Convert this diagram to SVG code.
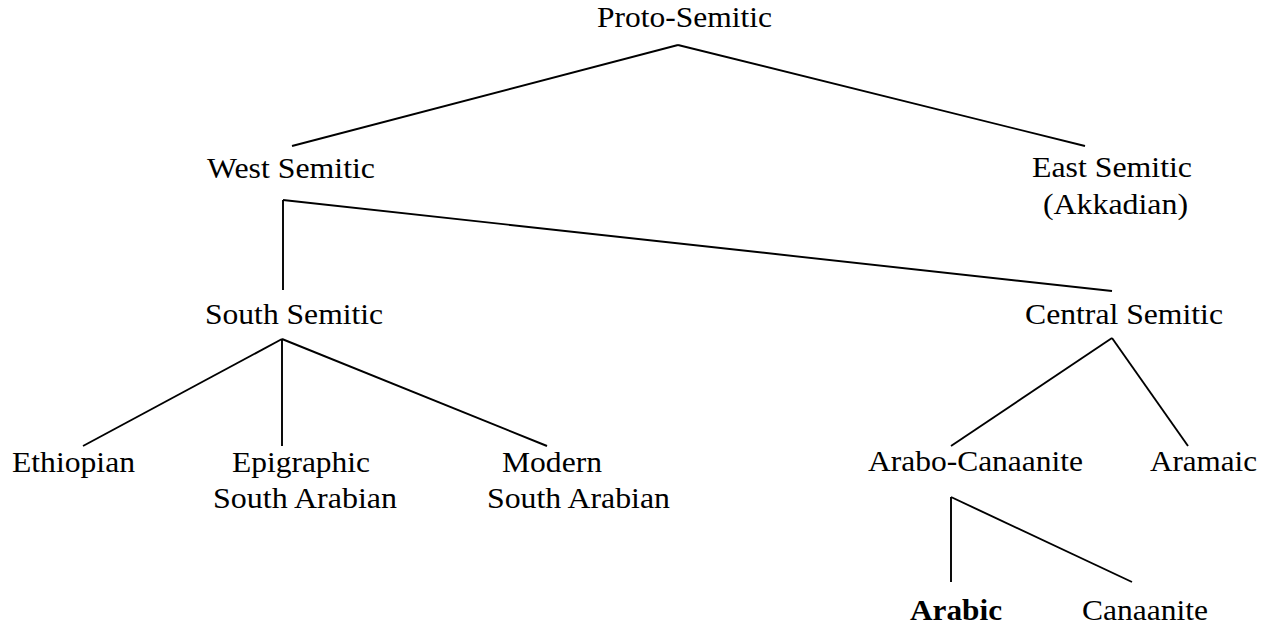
<svg xmlns="http://www.w3.org/2000/svg" width="1270" height="625" viewBox="0 0 1270 625">
<style>
text{font-family:"Liberation Serif","Times New Roman",serif;font-size:29.5px;fill:#000}
.b{font-weight:bold}
.c line{stroke:#000;stroke-width:1.9;stroke-linecap:butt}
</style>
<rect width="1270" height="625" fill="#fff"/>
<g class="c" id="connectors">
<line x1="678" y1="45" x2="292" y2="146"/>
<line x1="678" y1="45" x2="1085" y2="146"/>
<line x1="283" y1="200" x2="283" y2="290"/>
<line x1="283" y1="200" x2="1112" y2="291"/>
<line x1="282" y1="339" x2="83" y2="446"/>
<line x1="282" y1="339" x2="282" y2="446"/>
<line x1="282" y1="339" x2="547" y2="446"/>
<line x1="1112" y1="338" x2="951" y2="446"/>
<line x1="1112" y1="338" x2="1188" y2="446"/>
<line x1="951" y1="497" x2="951" y2="582"/>
<line x1="951" y1="497" x2="1132" y2="582"/>
</g>
<g id="proto-semitic"><text x="597" y="27" textLength="175" lengthAdjust="spacingAndGlyphs">Proto-Semitic</text></g>
<g id="west-semitic"><text x="207" y="178" textLength="168" lengthAdjust="spacingAndGlyphs">West Semitic</text></g>
<g id="east-semitic"><text x="1032" y="177" textLength="160" lengthAdjust="spacingAndGlyphs">East Semitic</text><text x="1043" y="214" textLength="145" lengthAdjust="spacingAndGlyphs">(Akkadian)</text></g>
<g id="south-semitic"><text x="205" y="324" textLength="178" lengthAdjust="spacingAndGlyphs">South Semitic</text></g>
<g id="central-semitic"><text x="1025" y="324" textLength="198" lengthAdjust="spacingAndGlyphs">Central Semitic</text></g>
<g id="ethiopian"><text x="12" y="472" textLength="123" lengthAdjust="spacingAndGlyphs">Ethiopian</text></g>
<g id="epigraphic-south-arabian"><text x="232" y="472" textLength="138" lengthAdjust="spacingAndGlyphs">Epigraphic</text><text x="213" y="508" textLength="184" lengthAdjust="spacingAndGlyphs">South Arabian</text></g>
<g id="modern-south-arabian"><text x="502" y="472" textLength="100" lengthAdjust="spacingAndGlyphs">Modern</text><text x="487" y="508" textLength="183" lengthAdjust="spacingAndGlyphs">South Arabian</text></g>
<g id="arabo-canaanite"><text x="868" y="471" textLength="215" lengthAdjust="spacingAndGlyphs">Arabo-Canaanite</text></g>
<g id="aramaic"><text x="1150" y="471" textLength="107" lengthAdjust="spacingAndGlyphs">Aramaic</text></g>
<g id="arabic"><text class="b" x="910" y="620" textLength="92" lengthAdjust="spacingAndGlyphs">Arabic</text></g>
<g id="canaanite"><text x="1082" y="620" textLength="126" lengthAdjust="spacingAndGlyphs">Canaanite</text></g>
</svg>
